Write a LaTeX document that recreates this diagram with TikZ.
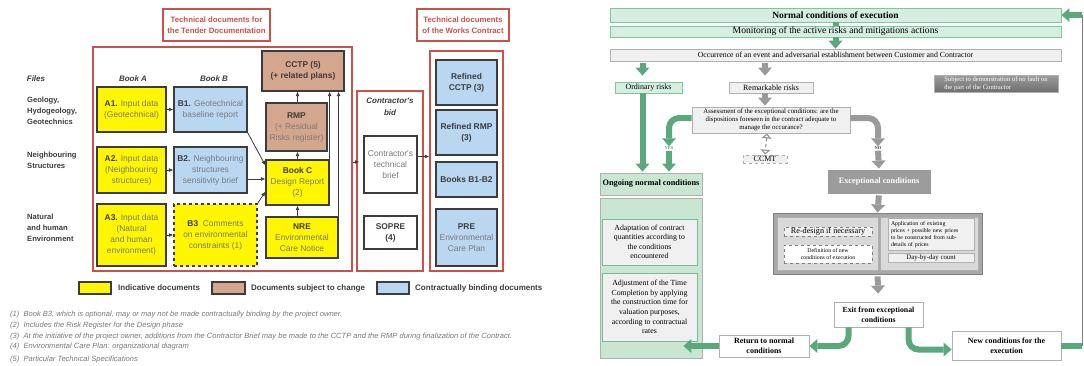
\documentclass[tikz,border=0pt]{standalone}
\usepackage{fontspec}
\setmainfont{Liberation Serif}
\newfontfamily\docsans{Liberation Sans}
\usetikzlibrary{arrows.meta}

\newcommand\fsz[2]{\fontsize{#1}{#2}\selectfont}
\newcommand\hd[1]{\textcolor{docline}{\textbf{#1}}}

\definecolor{docyellow}{HTML}{FFF600}
\definecolor{docbrown}{HTML}{D5A68E}
\definecolor{docblue}{HTML}{B9D7F1}
\definecolor{docred}{HTML}{C9524C}
\definecolor{docline}{HTML}{3C3C3C}
\definecolor{doctext}{HTML}{7A7A7A}
\definecolor{grn}{HTML}{5AA97C}
\definecolor{grnlight}{HTML}{D6EEDF}
\definecolor{grnpale}{HTML}{C9E6D3}
\definecolor{grnedge}{HTML}{7DC79B}
\definecolor{gryarrow}{HTML}{9A9A9A}
\definecolor{grylight}{HTML}{F0F0F0}
\definecolor{gryedge}{HTML}{B0B0B0}
\definecolor{grydark}{HTML}{9C9C9C}
\definecolor{grymid}{HTML}{A8A8A8}
\definecolor{gryinner}{HTML}{D9D9D9}

\tikzset{
  doc/.style={draw=docline, line width=1.2pt, align=center, inner sep=1pt, text=doctext, font=\docsans\fsz{8.4}{11}},
  yel/.style={doc, fill=docyellow},
  brn/.style={doc, fill=docbrown},
  blu/.style={doc, fill=docblue},
  wht/.style={doc, fill=white},
  redbox/.style={draw=docred, line width=1.2pt},
  redhead/.style={redbox, align=center, inner sep=1pt, text=docred, font=\docsans\bfseries\fsz{7.8}{10.5}},
  docarrow/.style={draw=docline, line width=0.8pt, -{Latex[length=4.5pt,width=4pt]}},
  rowlbl/.style={anchor=west, align=left, inner sep=0pt, text=docline, font=\docsans\bfseries\fsz{7.6}{11}},
  collbl/.style={align=center, inner sep=0pt, text=docline, font=\docsans\bfseries\itshape\fsz{8}{12}},
  note/.style={anchor=west, inner sep=0pt, text=doctext, font=\docsans\itshape\fsz{7.55}{8}},
  leg/.style={anchor=west, inner sep=0pt, text=docline, font=\docsans\bfseries\fsz{8}{10}},
  gbar/.style={draw=grnedge, fill=grnlight, line width=0.9pt, inner sep=0pt, align=center},
  gbox/.style={draw=gryedge, fill=grylight, line width=0.8pt, inner sep=0pt, align=center},
  wbox/.style={draw=gryedge, fill=white, line width=0.8pt, inner sep=0pt, align=center, font=\bfseries\fsz{8}{10}},
  grnblk/.style={draw=grn, line width=6pt, -{Triangle[length=8pt,width=14pt,line width=0pt]}},
  gryblk/.style={grnblk, draw=gryarrow},
  grnbar/.style={draw=grn, line width=6pt},
  dashbi/.style={draw=gryarrow, dashed, line width=1.2pt, {Triangle[open,length=5pt,width=10pt]}-{Triangle[open,length=5pt,width=10pt]}}
}

\begin{document}
\begin{tikzpicture}[x=1pt,y=-1pt]
\useasboundingbox[fill=white] (0,0) rectangle (1084,365);

\node[redhead, minimum width=107pt, minimum height=32pt] (hdtender) at (216.5,25) {Technical documents for\\the Tender Documentation};
\node[redhead, minimum width=92pt, minimum height=32pt] (hdworks) at (463,25) {Technical documents\\of the Works Contract};
\node[redbox, minimum width=259pt, minimum height=224pt] (tender) at (222.5,159) {};
\node[redbox, minimum width=66pt, minimum height=180pt] (bid) at (390,181) {};
\node[redbox, minimum width=73pt, minimum height=220pt] (works) at (466.5,161) {};

\node[collbl] (files) at (36,79) {Files};
\node[collbl] (booka) at (133,79) {Book A};
\node[collbl] (bookb) at (214,79) {Book B};
\node[collbl] (bidlbl) at (390,107) {Contractor's\\bid};
\node[rowlbl] (geo) at (27,111) {Geology,\\Hydogeology,\\Geotechnics};
\node[rowlbl] (neigh) at (27,160) {Neighbouring\\Structures};
\node[rowlbl] (natural) at (27,228) {Natural\\and human\\Environment};

\node[yel, minimum width=69pt, minimum height=45pt] (A1) at (131.5,109.5) {\hd{A1.} Input data\\(Geotechnical)};
\node[blu, minimum width=73pt, minimum height=45pt] (B1) at (210.5,109.5) {\hd{B1.} Geotechnical\\baseline report};
\node[yel, minimum width=69pt, minimum height=46pt] (A2) at (131.5,170) {\hd{A2.} Input data\\(Neighbouring\\structures)};
\node[blu, minimum width=73pt, minimum height=46pt] (B2) at (210.5,170) {\hd{B2.} Neighbouring\\structures\\sensitivity brief};
\node[yel, minimum width=69pt, minimum height=62pt] (A3) at (131.5,235) {\hd{A3.} Input data\\(Natural\\and human\\environment)};
\node[yel, dashed, minimum width=83pt, minimum height=62pt] (B3) at (215.5,235) {\hd{B3}\ \ Comments\\on environmental\\constraints (1)};
\node[brn, minimum width=82pt, minimum height=40pt] (CCTP) at (303,71) {\hd{CCTP (5)}\\\hd{(+ related plans)}};
\node[brn, minimum width=61pt, minimum height=48pt] (RMP) at (296.5,127) {\hd{RMP}\\(+ Residual\\Risks register)};
\node[yel, minimum width=63pt, minimum height=45pt] (BookC) at (297.5,182.5) {\hd{Book C}\\Design Report\\(2)};
\node[yel, minimum width=72pt, minimum height=41pt] (NRE) at (302,237.5) {\hd{NRE}\\Environmental\\Care Notice};
\node[wht, minimum width=53pt, minimum height=57pt] (brief) at (390.5,164.5) {Contractor's\\technical\\brief};
\node[wht, minimum width=53pt, minimum height=33pt] (SOPRE) at (390.5,232.5) {\hd{SOPRE}\\\hd{(4)}};
\node[blu, minimum width=61pt, minimum height=45pt] (RCCTP) at (466.5,82.5) {\hd{Refined}\\\hd{CCTP (3)}};
\node[blu, minimum width=61pt, minimum height=45pt] (RRMP) at (466.5,132.5) {\hd{Refined RMP}\\\hd{(3)}};
\node[blu, minimum width=61pt, minimum height=35pt] (BB12) at (466.5,179.5) {\hd{Books B1-B2}};
\node[blu, minimum width=61pt, minimum height=57pt] (PRE) at (466.5,237.5) {\hd{PRE}\\Environmental\\Care Plan};

\draw[docarrow] (A1) -- (B1);
\draw[docarrow] (A2) -- (B2);
\draw[docarrow] (A3) -- (B3);
\draw[docarrow] (B1.south east) -- ([yshift=-6pt]BookC.north west);
\draw[docarrow] ([yshift=-9pt]B2.east) -- ([yshift=-9pt]B2.east -| BookC.west);
\draw[docarrow] (B3.north east) -- ([yshift=14pt]BookC.south west);
\draw[docarrow] (BookC.north) -- (BookC.north |- RMP.south);
\draw[docarrow] (RMP.north -| BookC.north) -- (BookC.north |- CCTP.south);
\draw[docarrow] (NRE.north -| BookC.south) -- (BookC.south);
\draw[docarrow] (BookC.north east) -- (BookC.north east |- CCTP.south);
\draw[docarrow] (NRE.north east) -- (NRE.north east |- CCTP.south);
\draw[docarrow] ([yshift=-3pt]tender.east) -- ([yshift=-3pt,xshift=3pt]tender.east -| bid.west);
\draw[docarrow] ([yshift=8pt]brief.east) -- ([yshift=8pt]brief.east -| works.west);

\node[yel, minimum width=32pt, minimum height=12pt] (legy) at (95,288) {};
\node[leg] (legytxt) at (118,288) {Indicative documents};
\node[brn, minimum width=33pt, minimum height=12pt] (legb) at (228.5,288) {};
\node[leg] (legbtxt) at (251,288) {Documents subject to change};
\node[blu, minimum width=32pt, minimum height=12pt] (legc) at (393,288) {};
\node[leg] (legctxt) at (415,288) {Contractually binding documents};

\node[note] (n1) at (10,315) {(1)\ \ Book B3, which is optional, may or may not be made contractually binding by the project owner.};
\node[note] (n2) at (10,326) {(2)\ \ Includes the Risk Register for the Design phase};
\node[note] (n3) at (10,337) {(3)\ \ At the initiative of the project owner, additions from the Contractor Brief may be made to the CCTP and the RMP during finalization of the Contract.};
\node[note] (n4) at (10,347) {(4)\ \ Environmental Care Plan: organizational diagram};
\node[note] (n5) at (10,360) {(5)\ \ Particular Technical Specifications};

\node[gbar, minimum width=451pt, minimum height=14pt, font=\bfseries\fsz{9.5}{11}] (normal) at (835.5,15) {Normal conditions of execution};
\node[gbar, minimum width=451pt, minimum height=11pt, font=\fsz{9.6}{10}] (monitor) at (835.5,31.5) {Monitoring of the active risks and mitigations actions};
\node[gbox, minimum width=451pt, minimum height=12pt, font=\fsz{7.8}{9}] (occur) at (835.5,55) {Occurrence of an event and adversarial establishment between Customer and Contractor};
\node[gbar, minimum width=67pt, minimum height=11pt, font=\fsz{8}{9}] (ordinary) at (648.5,87.5) {Ordinary risks};
\node[gbox, minimum width=84pt, minimum height=11pt, font=\fsz{8}{9}] (remark) at (771,87.5) {Remarkable risks};
\node[draw=gryedge, top color=grydark, bottom color=gray!85!black, line width=0.6pt, minimum width=124pt, minimum height=16pt, inner sep=2pt, align=left, text=white, font=\fsz{6.6}{7.5}] (subject) at (996,84) {Subject to demonstration of no fault on\\the part of the Contractor};
\node[gbox, minimum width=158pt, minimum height=26pt, font=\fsz{6.8}{8.2}] (assess) at (771,120) {Assessment of the exceptional conditions: are the\\dispositions foreseen in the contract adequate to\\manage the occurance?};
\node[gbox, dashed, minimum width=44pt, minimum height=8pt, font=\fsz{8}{9}] (ccmt) at (765,159) {CCMT};
\node[draw=gryarrow, fill=grydark, line width=0.8pt, minimum width=102pt, minimum height=23pt, text=white, font=\bfseries\fsz{8.3}{10}] (except) at (879,181.5) {Exceptional conditions};

\node[draw=gray, fill=grymid, line width=0.8pt, minimum width=209pt, minimum height=61pt] (exbox) at (877.5,243.5) {};
\node[draw=gryedge, fill=gryinner, minimum width=101pt, minimum height=53pt] (exleft) at (827.5,243.5) {};
\node[draw=gryedge, fill=gryinner, minimum width=98pt, minimum height=53pt] (exright) at (929,243.5) {};
\node[gbox, dashed, draw=gray, minimum width=88pt, minimum height=9pt, font=\fsz{8.2}{9}] (redesign) at (828,231.5) {Re-design if necessary};
\node[gbox, dashed, draw=gray, fill=white, minimum width=88pt, minimum height=18pt, font=\fsz{5.8}{6.8}] (definition) at (828,254) {Definition of new\\conditions of execution};
\node[gbox, minimum width=86pt, minimum height=29pt, inner sep=3pt, align=left, font=\fsz{5.8}{6.8}, text width=80pt] (applic) at (931,234.5) {Application of existing\\prices + possible new prices\\to be constructed from sub-\\details of prices};
\node[gbox, minimum width=86pt, minimum height=9pt, font=\fsz{6.8}{8}] (daybyday) at (931,257.5) {Day-by-day count};

\node[wbox, minimum width=89pt, minimum height=25pt, font=\bfseries\fsz{7.8}{10}] (exit) at (878.5,314.5) {Exit from exceptional\\conditions};
\node[wbox, minimum width=90pt, minimum height=22pt] (return) at (764,346) {Return to normal\\conditions};
\node[wbox, minimum width=109pt, minimum height=29pt] (newcond) at (1006.5,345.5) {New conditions for the\\execution};

\node[draw=gryedge, fill=grnpale, line width=0.8pt, minimum width=102pt, minimum height=22pt, inner sep=0pt, font=\bfseries\fsz{8.3}{10}] (ongoing) at (651,184) {Ongoing normal conditions};
\node[draw=gryedge, fill=grnpale, line width=0.8pt, minimum width=102pt, minimum height=160pt] (ongpanel) at (651,278) {};
\node[draw=grn!80, fill=grylight, line width=0.8pt, minimum width=95pt, minimum height=46pt, inner sep=0pt, align=center, font=\fsz{7.8}{9.5}] (adapt) at (649.5,242) {Adaptation of contract\\quantities according to\\the conditions\\encountered};
\node[draw=grn!80, fill=grylight, line width=0.8pt, minimum width=95pt, minimum height=68pt, inner sep=0pt, align=center, font=\fsz{7.8}{9.7}] (adjust) at (649.5,307) {Adjustment of the Time\\Completion by applying\\the construction time for\\valuation purposes,\\according to contractual\\rates};

\node[text=grn, inner sep=0pt, font=\bfseries\fsz{4.5}{5}] (yes) at (669,148) {YES};
\node[text=docline, inner sep=0pt, font=\bfseries\fsz{4.5}{5}] (no) at (878,148) {NO};
\coordinate (loopbot) at (1082,345.5);
\coordinate (looptop) at (1082,15);

\draw[grnbar] (normal.south) -- (monitor.north);
\draw[grnblk] (monitor.south) -- (occur.north);
\draw[grnblk, shorten <=2pt, shorten >=6pt] ([xshift=-6pt]ordinary.north |- occur.south) -- ([xshift=-6pt]ordinary.north);
\draw[gryblk, shorten <=2pt, shorten >=6pt] ([xshift=-6pt]remark.north |- occur.south) -- ([xshift=-6pt]remark.north);
\draw[gryblk, shorten >=1pt] ([xshift=-6pt]remark.south) -- ([xshift=-6pt]remark.south |- assess.north);
\draw[grnblk, shorten >=1pt] ([xshift=-6pt]ordinary.south) -- ([xshift=-6pt]ordinary.south |- ongoing.north);
\draw[grnblk, rounded corners=10pt] ([yshift=2pt]assess.west) -| (yes.north);
\draw[grnblk, shorten <=1pt, shorten >=1pt] (yes.south) -- (yes.south |- ongoing.north);
\draw[gryblk, rounded corners=10pt] ([yshift=2pt]assess.east) -| (no.north);
\draw[gryblk, shorten <=1pt, shorten >=1pt] (no.south) -- (except.north);
\draw[dashbi] ([xshift=-4pt]assess.south) -- (ccmt.north);
\draw[gryblk, shorten <=2pt] (except.south) -- (exbox.north);
\draw[gryblk, shorten <=2pt, shorten >=8pt] (exbox.south) -- (exit.north);
\draw[grnblk, rounded corners=10pt] ([xshift=-30pt]exit.south) |- (return.east);
\draw[grnblk, rounded corners=10pt] ([xshift=30pt]exit.south) |- ([yshift=-4pt]newcond.west);
\draw[grnblk] (return.west) -- ([xshift=-19pt]ongpanel.east |- return.west);
\draw[grnbar] (newcond.east) -- (newcond.east -| loopbot);
\draw[draw=gray, line width=0.6pt] (loopbot) -- (looptop);
\draw[grnblk] (looptop) -- (normal.east);
\end{tikzpicture}
\end{document}
